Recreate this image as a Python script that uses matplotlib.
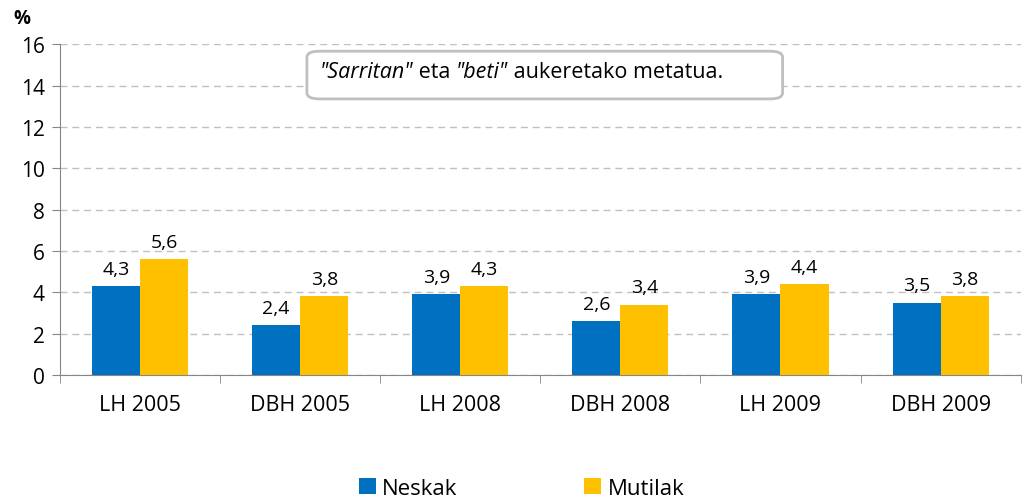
import numpy as np
import matplotlib.pyplot as plt
from matplotlib.patches import FancyBboxPatch

plt.rcParams['font.family'] = ['Open Sans', 'DejaVu Sans']

kategoriak = ['LH 2005', 'DBH 2005', 'LH 2008', 'DBH 2008', 'LH 2009', 'DBH 2009']
neskak = [4.3, 2.4, 3.9, 2.6, 3.9, 3.5]
mutilak = [5.6, 3.8, 4.3, 3.4, 4.4, 3.8]
etiketa_neskak = ['4,3', '2,4', '3,9', '2,6', '3,9', '3,5']
etiketa_mutilak = ['5,6', '3,8', '4,3', '3,4', '4,4', '3,8']

urdina = '#0070C0'
horia = '#FFC000'

fig = plt.figure(figsize=(10.23, 5.02), dpi=100)
ax = fig.add_axes([0.0587, 0.251, 0.939, 0.659])

x = np.arange(len(kategoriak))
w = 0.3
b1 = ax.bar(x - w / 2, neskak, w, color=urdina, label='Neskak', zorder=3)
b2 = ax.bar(x + w / 2, mutilak, w, color=horia, label='Mutilak', zorder=3)

for rect, t in zip(b1, etiketa_neskak):
    ax.annotate(t, (rect.get_x() + rect.get_width() / 2, rect.get_height()),
                xytext=(0, 6), textcoords='offset points', ha='center', va='bottom', fontsize=14)
for rect, t in zip(b2, etiketa_mutilak):
    ax.annotate(t, (rect.get_x() + rect.get_width() / 2, rect.get_height()),
                xytext=(0, 6), textcoords='offset points', ha='center', va='bottom', fontsize=14)

ax.set_xlim(-0.5, len(kategoriak) - 0.5)
ax.set_ylim(0, 16)
ax.set_yticks(range(0, 17, 2))
ax.set_xticks(x)
ax.set_xticklabels(kategoriak, fontsize=15.5)
ax.set_xticks(np.arange(-0.5, len(kategoriak)), minor=True)
ax.tick_params(axis='x', which='major', length=0, pad=14)
ax.tick_params(axis='x', which='minor', length=6, color='#868686')
ax.tick_params(axis='y', labelsize=15, length=6, color='#868686', pad=5)

ax.yaxis.grid(True, linestyle=(0, (5, 3.5)), color='#c0c0c0', linewidth=1)
ax.set_axisbelow(True)
for s in ['top', 'right']:
    ax.spines[s].set_visible(False)
ax.spines['left'].set_color('#868686')
ax.spines['bottom'].set_color('#868686')

fig.text(0.013, 0.963, '%', fontsize=13.5, fontweight='bold', ha='left', va='center')

# oharra
kutxa = FancyBboxPatch((0.300, 0.801), 0.465, 0.095, boxstyle='round,pad=0,rounding_size=0.012',
                       transform=fig.transFigure, facecolor='white', edgecolor='#bfbfbf',
                       linewidth=2, zorder=5, clip_on=False)
ax.add_patch(kutxa)
t1 = ax.text(0.312, 0.855, '"Sarritan"', fontsize=15.5, style='italic', va='center',
             transform=fig.transFigure, zorder=6)
t2 = ax.annotate(' eta ', xy=(1, 0), xycoords=t1, va='bottom', fontsize=15.5, zorder=6)
t3 = ax.annotate('"beti"', xy=(1, 0), xycoords=t2, va='bottom', fontsize=15.5, style='italic', zorder=6)
t4 = ax.annotate(' aukeretako metatua.', xy=(1, 0), xycoords=t3, va='bottom', fontsize=15.5, zorder=6)

fig.legend(handles=[b1, b2], loc='center', bbox_to_anchor=(0.51, 0.025), ncol=2,
           frameon=False, fontsize=16, handlelength=0.75, handleheight=0.75,
           handletextpad=0.3, columnspacing=5.7)

fig.savefig('out.png', dpi=100)
